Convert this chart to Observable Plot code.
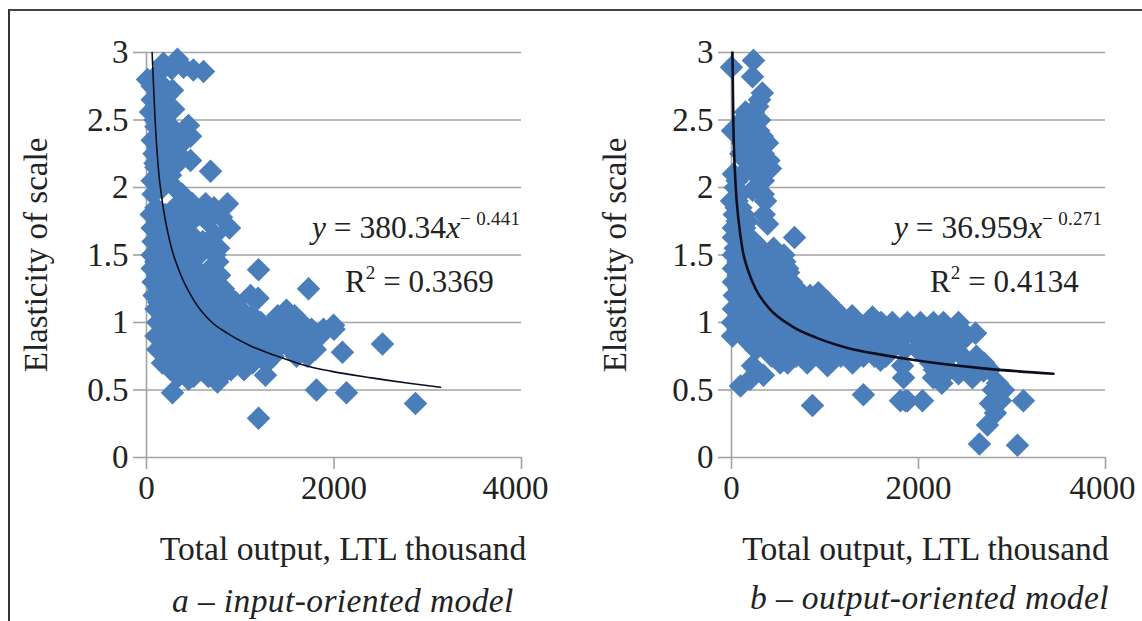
<!DOCTYPE html>
<html>
<head>
<meta charset="utf-8">
<script src="https://cdn.jsdelivr.net/npm/d3@7"></script>
<script src="https://cdn.jsdelivr.net/npm/@observablehq/plot@0.6"></script>
<style>
  html, body { margin: 0; padding: 0; background: #fff; }
  body { position: relative; width: 1142px; height: 621px; overflow: hidden; font-family: "Liberation Serif", serif; color: #222; }
  .frame { position: absolute; left: 8px; top: 9px; right: 0; bottom: 0; border-left: 2px solid #333; border-top: 2px solid #444; }
  .panel { position: absolute; top: 0; }
  .t { position: absolute; white-space: nowrap; line-height: 1; }
  .cap { font-size: 33.5px; font-style: italic; letter-spacing: 0.4px; }
  .eq { font-size: 31.5px; }
  .eq i { font-style: italic; }
  .eq sup { font-size: 19px; line-height: 0; vertical-align: 13px; letter-spacing: 0.3px; }
  .eq .r2 { font-size: 28.5px; }
</style>
</head>
<body>
<div class="frame"></div>
<script>
const xTicks = [0, 2000, 4000];
const yTicks = [0, 0.5, 1, 1.5, 2, 2.5, 3];
const xLabel = "Total output, LTL thousand";
const yLabel = "Elasticity of scale";
const captionA = "a \u2013 input-oriented model";
const captionB = "b \u2013 output-oriented model";

// [elasticity, [total output, ...]]
const rowsA = [
  [2.95,[330]],[2.92,[180]],[2.89,[395]],[2.88,[270]],[2.87,[500]],[2.86,[608]],[2.84,[120]],
  [2.80,[10]],[2.78,[100]],[2.75,[60,180]],[2.72,[277]],[2.68,[130,220]],[2.65,[60]],
  [2.62,[180]],[2.60,[100]],[2.58,[290]],[2.56,[43,170]],[2.50,[90]],
  [2.46,[448,250]],[2.45,[100]],[2.42,[300,400]],[2.38,[470,170]],[2.35,[60,210]],[2.33,[380]],[2.30,[120]],
  [2.28,[290]],[2.25,[80]],[2.22,[380]],[2.20,[470,200]],[2.18,[90]],[2.15,[100,290]],[2.12,[683]],
  [2.09,[256]],[2.10,[130]],[2.05,[60]],[2.03,[100]],[2.00,[170,300]],[1.95,[70,380]],
  [1.88,[864,630,490]],[1.85,[100,300,720]],[1.80,[50,200,400,560]],[1.78,[800]],
  [1.75,[120,300,480,650]],[1.70,[885,60,220,400]],[1.65,[150,300,480,730]],
  [1.60,[70,230,400,600]],[1.58,[683]],[1.55,[140,320,500,770]],[1.50,[60,220,400,560,730]],
  [1.45,[100,260,440,760]],[1.40,[60,180,360,520,680]],[1.39,[1195]],
  [1.35,[120,300,450,600,780]],[1.30,[70,220,380,540,700]],[1.25,[130,290,460,620,820,1728]],
  [1.20,[80,210,370,530,690,870,1110]],[1.18,[1190]],[1.15,[130,290,450,610,770,950]],
  [1.10,[100,220,380,540,700,860,1000]],[1.09,[1493]],
  [1.05,[170,330,490,650,810,970,1130,1400,1580]],
  [1.00,[120,260,420,580,740,900,1060,1220,1350,1500,1650]],[0.98,[1995]],
  [0.95,[190,350,510,670,830,990,1150,1300,1440,1600,1760,1888,2000]],
  [0.90,[100,270,430,590,750,910,1070,1230,1380,1530,1680,1850]],
  [0.85,[180,340,500,660,820,980,1140,1300,1450,1620,1760]],[0.84,[2517]],
  [0.80,[120,270,430,590,750,910,1070,1230,1380,1540,1700,1800]],[0.78,[2090]],
  [0.75,[230,390,550,710,870,1030,1190,1350,1600,1720]],
  [0.70,[170,330,490,650,810,970,1130,1280]],
  [0.65,[260,420,580,740,900,1040]],[0.61,[1269]],[0.60,[340,500,660,790]],
  [0.58,[448]],[0.56,[757]],[0.50,[1813]],[0.48,[277,2133]],[0.40,[2869]],[0.29,[1195]]
];

// [elasticity, [total output, ...]]
const rowsB = [
  [2.94,[235]],[2.89,[0]],[2.82,[225]],[2.70,[330]],[2.65,[300]],[2.60,[280]],[2.56,[235,150]],
  [2.50,[120,200,300]],[2.47,[257]],[2.42,[10,150,290]],[2.38,[190,330]],[2.33,[385,120,260]],
  [2.25,[100,220,340]],[2.20,[150,280,400]],[2.14,[417]],[2.10,[20,120,250,330]],[2.05,[60,340]],
  [2.00,[40]],[1.98,[225]],[1.95,[90,340]],[1.90,[0,60,364]],[1.85,[50,100]],[1.80,[30,130,350]],
  [1.75,[60,170]],[1.73,[385]],[1.70,[20,140]],[1.65,[90]],[1.63,[674,20]],[1.60,[130,240]],
  [1.55,[450,40,200,310]],[1.50,[20,110,230,350,470,560]],[1.45,[70,180,300,440,570]],
  [1.40,[20,130,240,480,600]],[1.37,[610]],[1.35,[70,190,320,440,550]],[1.30,[20,130,250,370,490,640]],
  [1.25,[80,200,320,440,560,700]],[1.22,[930]],[1.20,[30,140,260,380,500,620,840]],
  [1.15,[90,210,330,450,570,690,810,930,1030]],[1.10,[20,150,270,390,510,630,750,870,990,1100]],
  [1.05,[80,210,330,450,570,690,810,930,1050,1170,1290]],[1.04,[1508]],
  [1.00,[10,140,270,390,510,630,750,870,990,1110,1230,1350,1470,1600,1720,1882,2021,2160,2267,2428]],
  [0.95,[70,200,330,450,570,690,810,930,1050,1170,1290,1410,1530,1650,1770,1900,2040,2180,2320,2450]],
  [0.92,[2610]],
  [0.90,[10,130,260,390,510,630,750,870,990,1110,1230,1350,1470,1590,1710,1830,1960,2100,2240,2380,2520]],
  [0.85,[190,320,450,570,690,810,930,1050,1170,1290,1410,1530,1650,1780,2050,2180,2300,2440]],
  [0.80,[260,380,510,630,750,870,990,1110,1230,1350,1470,1590,1710,1850,1990,2250,2400]],
  [0.75,[430,570,690,810,930,1050,1170,1290,1410,1530,1650,2080,2200,2330,2470,2620]],
  [0.72,[1594]],[0.70,[520,810,1294,600,2130,2260,2550,2700]],[0.68,[225,1027,1830]],
  [0.65,[2170,2330,2620,2760]],[0.64,[2695]],[0.62,[2428]],[0.61,[342]],[0.59,[1840,2160,2577]],
  [0.58,[200]],[0.55,[2845,2250]],[0.53,[96]],[0.50,[2909,2800]],[0.465,[1411]],
  [0.42,[1807,1882,1860,2043,3122,2876]],[0.40,[2770]],[0.385,[866]],[0.33,[2823]],
  [0.24,[2738]],[0.10,[2652]],[0.09,[3058]]
];

// Trend curves
const curveAx = [60, 90, 125, 170, 256, 350, 500, 700, 864, 1100, 1397, 1700, 1963, 2400, 2800, 3136];
const curveAy = [3, 2.52, 2.15, 1.89, 1.58, 1.38, 1.17, 1.0, 0.92, 0.83, 0.75, 0.68, 0.64, 0.59, 0.55, 0.52];
const curveBx = [10, 20, 43, 75, 118, 180, 257, 396, 652, 898, 1251, 1615, 1968, 2695, 3443];
const curveBy = [3, 2.47, 2.03, 1.76, 1.54, 1.38, 1.25, 1.11, 0.97, 0.89, 0.81, 0.76, 0.72, 0.66, 0.62];

const blue = "#4a7ebb";
const gridColor = "#a3a3a3";
const font = '"Liberation Serif", serif';

function flatten(rows) {
  return rows.flatMap(([y, xs]) => xs.map(x => ({x, y})));
}
function curve(xs, ys) {
  return xs.map((x, i) => ({x, y: ys[i]}));
}

function panel({left, marginLeft, marginRight, rows, curveData, lineWidth, yLabelOffset, lastTickShift, xLabelShift}) {
  const width = 571;
  const svg = Plot.plot({
    width, height: 621,
    marginLeft, marginRight, marginTop: 52, marginBottom: 164,
    style: {background: "transparent", fontFamily: font, overflow: "visible", color: "#222"},
    x: {domain: [0, 4000], type: "linear"},
    y: {domain: [0, 3], type: "linear"},
    marks: [
      Plot.gridY(yTicks, {stroke: gridColor, strokeOpacity: 1, strokeWidth: 1.6}),
      Plot.ruleX([0], {stroke: gridColor, strokeWidth: 1.6}),
      Plot.axisY({
        ticks: yTicks, tickSize: 13, tickPadding: 5, stroke: gridColor, strokeWidth: 1.6,
        tickFormat: d => String(d), fontSize: 33, fill: "#222",
        label: yLabel, labelAnchor: "center", labelArrow: "none", labelOffset: yLabelOffset
      }),
      Plot.axisX({
        ticks: xTicks, tickSize: 12, tickPadding: 6, stroke: gridColor, strokeWidth: 1.6,
        tickFormat: d => String(d), fontSize: 33, fill: "#222",
        label: xLabel, labelAnchor: "center", labelArrow: "none", labelOffset: 102
      }),
      Plot.dot(flatten(rows), {x: "x", y: "y", symbol: "diamond2", r: 10.6, fill: blue, stroke: "none"}),
      Plot.line(curve(...curveData), {x: "x", y: "y", curve: "monotone-x", stroke: "#0b0f1e", strokeWidth: lineWidth})
    ]
  });
  svg.classList.add("panel");
  svg.style.left = left + "px";
  const texts = d3.select(svg).selectAll("text");
  texts.filter(function () { return this.textContent === "4000"; }).attr("dx", lastTickShift);
  texts.filter(function () { return this.textContent === xLabel; }).attr("dx", xLabelShift).style("font-size", "33.6px");
  return svg;
}

document.body.append(panel({left: 0, marginLeft: 146, marginRight: 50, rows: rowsA, curveData: [curveAx, curveAy], lineWidth: 1.6, yLabelOffset: 123, lastTickShift: -6, xLabelShift: 9}));
document.body.append(panel({left: 571, marginLeft: 160, marginRight: 37, rows: rowsB, curveData: [curveBx, curveBy], lineWidth: 2.6, yLabelOffset: 129, lastTickShift: -3, xLabelShift: 7}));

function html(cls, left, top, inner) {
  const d = document.createElement("div");
  d.className = "t " + cls;
  d.style.left = left + "px";
  d.style.top = top + "px";
  d.innerHTML = inner;
  document.body.append(d);
}
html("cap", 172, 584, captionA);
html("cap", 750, 581, captionB);
html("eq", 312, 212, '<i>y</i> = 380.34<i>x</i><sup>\u2212 0.441</sup>');
html("eq r2wrap", 345, 266, 'R<sup>2</sup> = 0.3369');
html("eq", 894, 212, '<i>y</i> = 36.959<i>x</i><sup>\u2212 0.271</sup>');
html("eq r2wrap", 930, 266, 'R<sup>2</sup> = 0.4134');
d3.selectAll(".r2wrap").style("font-size", "31px");
</script>
</body>
</html>
